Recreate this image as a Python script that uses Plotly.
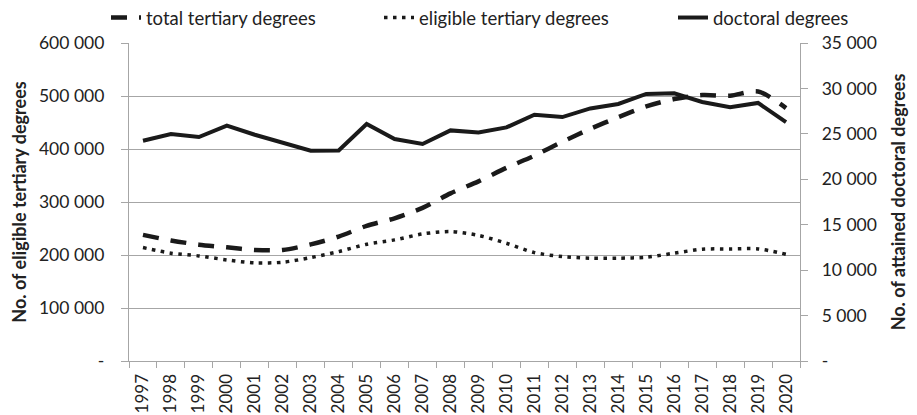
import plotly.graph_objects as go

years = [str(y) for y in range(1997, 2021)]

total_tertiary = [238000, 227500, 219500, 214500, 209500, 209600, 220000, 234800, 255000, 269300,
                  289000, 316300, 339000, 364500, 387500, 413600, 438100, 460000, 480300, 494200,
                  501800, 500500, 508600, 477200]

eligible_tertiary = [214000, 203400, 198300, 190700, 185100, 186400, 195100, 206400, 220300, 228500,
                     239800, 244200, 237000, 222200, 204500, 197000, 194000, 194000, 195800, 203400,
                     210900, 211500, 211500, 201500]

doctoral = [24240, 24980, 24650, 25900, 24900, 23990, 23140, 23180, 26080, 24430,
            23880, 25380, 25160, 25710, 27110, 26850, 27800, 28290, 29390, 29460,
            28510, 27920, 28400, 26300]

left_ticks = [0, 100000, 200000, 300000, 400000, 500000, 600000]
left_labels = ["-", "100 000", "200 000", "300 000", "400 000", "500 000", "600 000"]
right_ticks = [0, 5000, 10000, 15000, 20000, 25000, 30000, 35000]
right_labels = ["-", "5 000", "10 000", "15 000", "20 000", "25 000", "30 000", "35 000"]

FONT = "Lato, 'Open Sans', sans-serif"
TXT = "#222222"
GRID = "#a6a6a6"

# page has an 8px body margin, so the figure is sized to fill the window from that offset
W, H = 909, 407

fig = go.Figure()
fig.add_trace(go.Scatter(
    x=years, y=total_tertiary, name="total tertiary degrees", mode="lines", showlegend=True,
    line=dict(color="#1a1a1a", width=4.5, dash="16px,12px", shape="spline", smoothing=0.8),
    legend="legend"))
fig.add_trace(go.Scatter(
    x=years, y=eligible_tertiary, name="eligible tertiary degrees", mode="lines", showlegend=True,
    line=dict(color="#1a1a1a", width=3.5, dash="3.5px,5.5px", shape="spline", smoothing=0.8),
    legend="legend2"))
fig.add_trace(go.Scatter(
    x=years, y=doctoral, name="doctoral degrees", mode="lines", yaxis="y2", showlegend=True,
    line=dict(color="#1a1a1a", width=4), legend="legend3"))

leg_common = dict(orientation="h", xref="container", yref="container", yanchor="middle",
                  y=1 - 10 / H, font=dict(family=FONT, size=18.5, color=TXT), bgcolor="rgba(0,0,0,0)",
                  borderwidth=0, itemwidth=30)

fig.update_layout(
    width=W, height=H,
    margin=dict(l=121, r=117, t=35, b=54, autoexpand=False),
    paper_bgcolor="white", plot_bgcolor="white", showlegend=True,
    font=dict(family=FONT, size=18, color=TXT),
    legend=dict(**leg_common, x=98 / W),
    legend2=dict(**leg_common, x=371 / W),
    legend3=dict(**leg_common, x=665 / W),
    xaxis=dict(
        type="category", tickangle=-90, showline=True, linecolor=GRID, linewidth=1.3,
        ticks="outside", ticklen=6, tickcolor=GRID, tickwidth=1.3, tickson="boundaries",
        showgrid=False, tickfont=dict(family=FONT, size=17, color=TXT),
        range=[-0.5, 23.5], ticklabelstandoff=5,
    ),
    yaxis=dict(
        range=[0, 600000], tickvals=left_ticks, ticktext=left_labels,
        showline=True, linecolor=GRID, linewidth=1.3, ticks="outside", ticklen=7,
        tickcolor=GRID, tickwidth=1.3, showgrid=True, gridcolor=GRID, gridwidth=1.3,
        zeroline=False, tickfont=dict(family=FONT, size=17.5, color=TXT), ticklabelstandoff=13,
        title=dict(text="<b>No. of eligible tertiary degrees</b>", font=dict(family=FONT, size=18, color=TXT), standoff=13),
    ),
    yaxis2=dict(
        range=[0, 35000], tickvals=right_ticks, ticktext=right_labels, overlaying="y", side="right",
        showline=True, linecolor=GRID, linewidth=1.3, ticks="outside", ticklen=7,
        tickcolor=GRID, tickwidth=1.3, showgrid=False, zeroline=False,
        tickfont=dict(family=FONT, size=17.5, color=TXT), ticklabelstandoff=10,
        title=dict(text="<b>No. of attained doctoral degrees</b>", font=dict(family=FONT, size=18, color=TXT), standoff=16),
    ),
)

fig.write_html("out.html")
